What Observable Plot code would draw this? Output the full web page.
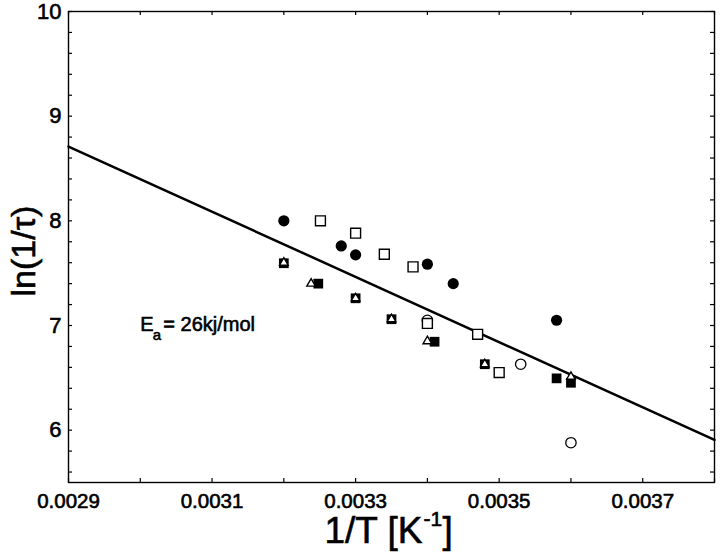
<!DOCTYPE html>
<html><head><meta charset="utf-8">
<script src="https://cdn.jsdelivr.net/npm/d3@7"></script>
<script src="https://cdn.jsdelivr.net/npm/@observablehq/plot@0.6"></script>
<style>body{margin:0;background:#fff} svg text{stroke:#000;stroke-width:0.6px}</style>
</head><body><div id="chart"></div>
<script>
// Series
const filledCircleX = [0.00320, 0.00328, 0.00330, 0.00340, 0.003436, 0.00358];
const filledCircleY = [8.00, 7.76, 7.675, 7.586, 7.40, 7.05];
const openSquareX = [0.003251, 0.00330, 0.00334, 0.00338, 0.00340, 0.00347, 0.00350];
const openSquareY = [8.00, 7.882, 7.681, 7.56, 7.02, 6.916, 6.55];
const openCircleX = [0.00340, 0.00353, 0.00360];
const openCircleY = [7.05, 6.63, 5.88];
const filledSquareX = [0.00320, 0.003248, 0.00330, 0.00335, 0.00341, 0.00348, 0.00358, 0.00360];
const filledSquareY = [7.595, 7.40, 7.26, 7.06, 6.845, 6.63, 6.495, 6.453];
const triangleX = [0.00320, 0.003238, 0.00330, 0.00335, 0.00340, 0.00348, 0.00360];
const triangleY = [7.60, 7.40, 7.26, 7.06, 6.85, 6.63, 6.51];
// Arrhenius fit line
const fitX = [0.0029, 0.0038];
const fitY = [8.71, 5.907];
// Ticks and labels
const xTickLabels = [0.0029, 0.0031, 0.0033, 0.0035, 0.0037];
const xMinorTicks = [0.0029, 0.0030, 0.0031, 0.0032, 0.0033, 0.0034, 0.0035, 0.0036, 0.0037, 0.0038];
const yTickLabels = [6, 7, 8, 9, 10];
const yMinorTicks = [5.6, 5.8, 6.0, 6.2, 6.4, 6.6, 6.8, 7.0, 7.2, 7.4, 7.6, 7.8, 8.0, 8.2, 8.4, 8.6, 8.8, 9.0, 9.2, 9.4, 9.6, 9.8, 10.0];
const xLabelMain = "1/T [K";
const xLabelSup = "-1";
const xLabelEnd = "]";
const yLabel = "ln(1/\u03C4)";
const annotX = [0.0030];
const annotY = [7.01];

const pts = (xs, ys) => xs.map((x, i) => ({x, y: ys[i]}));

const W = 720, H = 559, mL = 68, mT = 11, mR = 6, mB = 77;
const innerW = W - mL - mR, innerH = H - mT - mB;
const tk = 4;
const ann = annotX.map((x, i) => ({x, y: annotY[i]}));

const chart = Plot.plot({
  width: W, height: H,
  marginLeft: mL, marginTop: mT, marginRight: mR, marginBottom: mB,
  style: {fontFamily: "'Liberation Sans', Arial, Helvetica, sans-serif", fontSize: "21px", background: "#fff", color: "#000"},
  x: {domain: [0.0029, 0.0038]},
  y: {domain: [5.5, 10]},
  marks: [
    Plot.frame({stroke: "#000", strokeWidth: 1.4}),
    Plot.tickX(xMinorTicks, {x: d => d, insetTop: innerH - tk, stroke: "#000", strokeWidth: 1.2}),
    Plot.tickX(xMinorTicks, {x: d => d, insetBottom: innerH - tk, stroke: "#000", strokeWidth: 1.2}),
    Plot.tickY(yMinorTicks, {y: d => d, insetRight: innerW - tk, stroke: "#000", strokeWidth: 1.2}),
    Plot.tickY(yMinorTicks, {y: d => d, insetLeft: innerW - tk, stroke: "#000", strokeWidth: 1.2}),
    Plot.axisX(xTickLabels, {tickSize: 0, tickPadding: 11, tickFormat: d => d.toFixed(4), label: null, fontSize: 20.5}),
    Plot.axisY(yTickLabels, {tickSize: 0, tickPadding: 7, tickFormat: d => String(d), label: null, fontSize: 22}),
    Plot.line(pts(fitX, fitY), {x: "x", y: "y", stroke: "#000", strokeWidth: 2.5}),
    Plot.dot(pts(openCircleX, openCircleY), {x: "x", y: "y", r: 5.2, fill: "#fff", stroke: "#000", strokeWidth: 1.3}),
    Plot.dot(pts(openSquareX, openSquareY), {x: "x", y: "y", symbol: "square", r: 5.6, fill: "#fff", stroke: "#000", strokeWidth: 1.4}),
    Plot.dot(pts(filledCircleX, filledCircleY), {x: "x", y: "y", r: 5.6, fill: "#000", stroke: "none"}),
    Plot.dot(pts(filledSquareX, filledSquareY), {x: "x", y: "y", symbol: "square", r: 5.5, fill: "#000", stroke: "none"}),
    Plot.dot(pts(triangleX, triangleY), {x: "x", y: "y", symbol: "triangle", r: 3.2, fill: "#fff", stroke: "#000", strokeWidth: 1.4}),
    Plot.text(ann, {x: "x", y: "y", text: () => "E", textAnchor: "start", lineAnchor: "middle", fontSize: 20}),
    Plot.text(ann, {x: "x", y: "y", text: () => "a", textAnchor: "start", lineAnchor: "middle", fontSize: 15, dx: 12.5, dy: 11}),
    Plot.text(ann, {x: "x", y: "y", text: () => "= 26kj/mol", textAnchor: "start", lineAnchor: "middle", fontSize: 20, dx: 23}),
    Plot.text([yLabel], {text: d => d, frameAnchor: "left", rotate: -90, textAnchor: "middle", lineAnchor: "middle", fontSize: 34, dx: -44, dy: 4}),
    Plot.text([xLabelMain], {text: d => d, frameAnchor: "bottom", textAnchor: "end", lineAnchor: "middle", fontSize: 37, dx: 31, dy: 49}),
    Plot.text([xLabelSup], {text: d => d, frameAnchor: "bottom", textAnchor: "start", lineAnchor: "middle", fontSize: 21, dx: 32, dy: 37}),
    Plot.text([xLabelEnd], {text: d => d, frameAnchor: "bottom", textAnchor: "start", lineAnchor: "middle", fontSize: 37, dx: 51, dy: 49})
  ]
});
document.getElementById("chart").appendChild(chart);
</script>
</body></html>
